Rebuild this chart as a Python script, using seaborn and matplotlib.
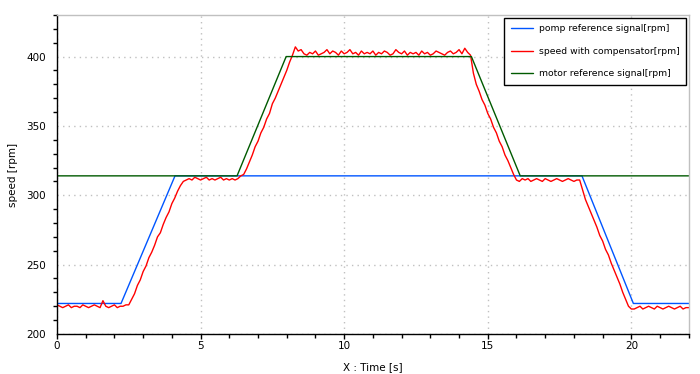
import numpy as np
import pandas as pd
import matplotlib
matplotlib.use('Agg')
import matplotlib.pyplot as plt
from matplotlib.ticker import MultipleLocator
import seaborn as sns

# reference signals (breakpoints)
pomp_t = [0, 2.23, 4.11, 18.28, 20.07, 22]
pomp_v = [222, 222, 314, 314, 222, 222]

motor_t = [0, 6.27, 7.98, 14.43, 16.13, 22]
motor_v = [314, 314, 400, 400, 314, 314]

# measured speed, sampled every 0.1 s from 0 to 22 s
speed_t = np.round(np.arange(0, 22.05, 0.1), 1)
speed_v = [
    221, 220, 219, 220, 221, 219, 220, 220, 219, 221, 220, 219, 220, 221, 220, 219,
    224, 220, 219, 220, 221, 219, 220, 220,
    221, 221, 225, 229, 235, 239, 245, 249, 255, 259, 264, 270, 273, 279, 284, 288,
    294, 298, 303, 307, 310, 311, 312,
    311, 313, 312, 311, 312, 313, 311, 312, 311, 312, 313, 311, 312, 311, 312, 311, 312,
    314, 315, 319, 324, 329, 335, 339, 345, 349, 355, 359, 366, 370, 375, 380, 385,
    390, 396, 401, 407,
    404, 405, 402, 401, 403, 402, 404, 401, 402, 403,
    405, 402, 404, 403, 401, 404, 402, 403, 405, 402,
    403, 401, 404, 402, 403, 402, 404, 401, 403, 402,
    404, 403, 401, 402, 405, 403, 402, 404, 401, 403,
    402, 403, 401, 404, 402, 403, 401, 402, 404, 403,
    402, 401, 403, 404, 402, 403, 405, 402, 406, 403,
    401, 388, 380, 375, 369, 365, 359, 355, 349, 345, 339, 335, 329, 325, 320, 315,
    311, 310, 312,
    311, 312, 310, 311, 312, 311, 310, 312, 311, 310, 311, 312, 311, 310, 311, 312,
    311, 310, 311, 311,
    304, 297, 292, 287, 282, 277, 271, 267, 261, 257, 251, 246, 241, 236, 230, 225,
    220, 218, 218,
    219, 220, 218, 219, 220, 219, 218, 220, 219, 218, 219, 220, 219, 218, 219, 220,
    218, 219, 219,
]

labels = ['pomp reference signal[rpm]', 'speed with compensator[rpm]', 'motor reference signal[rpm]']
colors = ['#0055ff', '#ff0000', '#005a00']

sns.set_style('white')
plt.rcParams['font.family'] = ['DejaVu Sans']
plt.rcParams['text.color'] = 'black'
plt.rcParams['axes.labelcolor'] = 'black'
plt.rcParams['xtick.color'] = 'black'
plt.rcParams['ytick.color'] = 'black'

fig = plt.figure(figsize=(7, 3.74), dpi=100)
ax = fig.add_axes([0.0814, 0.107, 0.9026, 0.853])

pomp = pd.DataFrame({'t': pomp_t, 'v': pomp_v})
speed = pd.DataFrame({'t': speed_t, 'v': speed_v})
motor = pd.DataFrame({'t': motor_t, 'v': motor_v})

sns.lineplot(data=pomp, x='t', y='v', ax=ax, color=colors[0], lw=1, label=labels[0])
sns.lineplot(data=speed, x='t', y='v', ax=ax, color=colors[1], lw=1, label=labels[1])
sns.lineplot(data=motor, x='t', y='v', ax=ax, color=colors[2], lw=1, label=labels[2])

ax.set_xlim(0, 22)
ax.set_ylim(200, 430)
ax.xaxis.set_major_locator(MultipleLocator(5))
ax.xaxis.set_minor_locator(MultipleLocator(1))
ax.yaxis.set_major_locator(MultipleLocator(50))
ax.yaxis.set_minor_locator(MultipleLocator(10))

ax.grid(True, which='major', color='#c0c0c0', linestyle=(0, (1, 3)), lw=1)
ax.tick_params(axis='both', which='both', direction='out', labelsize=7.5,
               width=1, pad=1.5)
ax.tick_params(axis='y', which='major', length=6.5)
ax.tick_params(axis='y', which='minor', length=3, left=True)
ax.tick_params(axis='x', which='major', length=3.5, bottom=True)
ax.tick_params(axis='x', which='minor', length=3, bottom=True)

for s in ['left', 'bottom']:
    ax.spines[s].set_color('black')
    ax.spines[s].set_linewidth(1)
for s in ['top', 'right']:
    ax.spines[s].set_color('#c0c0c0')
    ax.spines[s].set_linewidth(1)

ax.set_xlabel('X : Time [s]', fontsize=7.5, labelpad=8)
ax.set_ylabel('speed [rpm]', fontsize=7.5, labelpad=6)

leg = ax.legend(loc='upper right', fontsize=6.7, frameon=True, fancybox=False,
                edgecolor='black', framealpha=1, handlelength=2.4, labelspacing=1.45,
                borderaxespad=0.3, borderpad=0.7, handletextpad=0.6)
leg.get_frame().set_linewidth(1)

fig.savefig('out.png', dpi=100)
